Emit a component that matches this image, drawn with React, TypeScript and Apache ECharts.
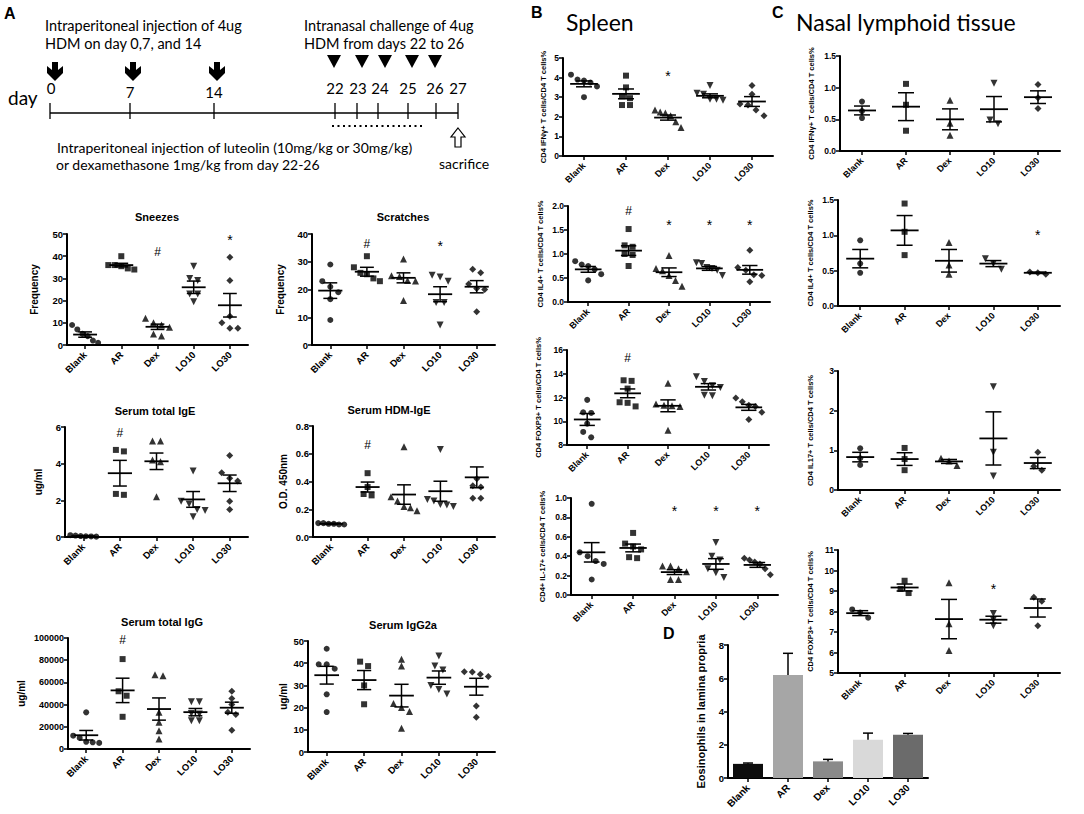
import React, { useEffect, useRef } from "react";
import * as echarts from "echarts";

const groups = ["Blank", "AR", "Dex", "LO10", "LO30"];

// ---------- Panel A ----------
const sneezePts = [[9, 7, 5, 4, 2, 1], [40, 36, 36, 35.5, 34.5, 34], [12, 10, 9, 8, 5, 4], [35.5, 30, 29, 23, 23, 19.5], [39.5, 29, 13, 10, 7.5, 7.5]];
const sneezeMean = [4.7, 36, 8.2, 26, 17.9];
const sneezeSem = [1.2, 0.8, 1.2, 2.8, 5.3];
const sneezeMarks = [[2, 42, "#"], [4, 47.5, "*"]];

const scratchPts = [[29, 23, 21, 19, 16.5, 9], [32, 28, 26, 25.5, 24, 23], [31, 25, 24.7, 23.2, 23.1, 16], [25.1, 24.5, 23, 15.3, 15.3, 7.2], [27.3, 26, 22, 20.4, 20, 12]];
const scratchMean = [19.6, 26.4, 24.2, 18.3, 21];
const scratchSem = [2.8, 1.6, 1.8, 2.7, 2.2];
const scratchMarks = [[1, 36.5, "#"], [3, 35.5, "*"]];

const igePts = [[0.03, 0.05, 0.08, 0.1, 0.02, 0.04], [4.75, 4.67, 2.35, 2.3], [5.24, 5.24, 4.2, 4.1, 2.2], [3.6, 1.95, 1.8, 1.5, 1.45, 1.1], [4.45, 3.5, 3.2, 3.05, 1.95, 1.5]];
const igeMean = [0.05, 3.48, 4.13, 2.05, 2.93];
const igeSem = [0.02, 0.7, 0.45, 0.43, 0.45];
const igeMarks = [[1, 5.7, "#"]];

const hdmPts = [[0.1, 0.1, 0.095, 0.09, 0.09, 0.095], [0.46, 0.36, 0.31, 0.3], [0.65, 0.29, 0.26, 0.22, 0.21, 0.19], [0.63, 0.27, 0.26, 0.235, 0.23, 0.22], [0.42, 0.37, 0.36, 0.28, 0.28]];
const hdmMean = [0.095, 0.36, 0.306, 0.33, 0.43];
const hdmSem = [0.004, 0.036, 0.07, 0.072, 0.075];
const hdmMarks = [[1, 0.66, "#"]];

const iggPts = [[33000, 12000, 10000, 6500, 6000, 5500], [81000, 52000, 48000, 29000], [66000, 67000, 33000, 24000, 16500, 9000], [42600, 42600, 32000, 31500, 25500, 25500], [52000, 45600, 40000, 33000, 31000, 17000]];
const iggMean = [12400, 52800, 36000, 33200, 37200];
const iggSem = [4300, 11000, 10000, 3300, 5000];
const iggMarks = [[1, 98500, "#"]];

const g2aPts = [[46.5, 39.5, 39.5, 37.5, 26, 18], [40.7, 38.7, 30, 21.5], [41.8, 38.7, 21.9, 20, 18.2, 10.7], [43.2, 38.7, 36.9, 30, 28.2, 26.1], [36.2, 36, 35, 34, 20.7, 15.6]];
const g2aMean = [34.6, 32.4, 25.4, 33.5, 29.4];
const g2aSem = [4, 4.3, 5.1, 3, 3.8];

// ---------- Panel B (Spleen) ----------
const bIfnPts = [[4.15, 3.9, 3.85, 3.75, 3.55, 3.0], [4.1, 3.5, 3.05, 2.95, 2.6, 2.6], [2.35, 2.25, 2.2, 2.05, 1.75, 1.45], [3.6, 3.2, 3.15, 2.9, 2.9, 2.85], [3.6, 3.15, 2.65, 2.6, 2.35, 2.05]];
const bIfnMean = [3.68, 3.17, 1.96, 3.07, 2.78];
const bIfnSem = [0.15, 0.25, 0.13, 0.1, 0.25];
const bIfnMarks = [[2, 4.1, "*"]];

const bIl4Pts = [[0.85, 0.78, 0.75, 0.68, 0.58, 0.45], [1.52, 1.18, 1.15, 1.0, 0.98, 0.75], [0.97, 0.7, 0.65, 0.55, 0.45, 0.33], [0.82, 0.8, 0.72, 0.7, 0.66, 0.55], [1.08, 0.72, 0.66, 0.57, 0.55, 0.42]];
const bIl4Mean = [0.68, 1.07, 0.62, 0.7, 0.67];
const bIl4Sem = [0.06, 0.1, 0.09, 0.04, 0.09];
const bIl4Marks = [[1, 1.9, "#"], [2, 1.6, "*"], [3, 1.6, "*"], [4, 1.6, "*"]];

const bFoxPts = [[11.8, 10.75, 10.7, 9.8, 9.1, 8.65], [13.45, 13.4, 12.75, 11.6, 11.55, 11.25], [13.2, 11.45, 11.35, 11.3, 11.25, 9.25], [13.75, 13.35, 13.0, 12.85, 12.2, 12.15], [11.95, 11.65, 11.35, 11.25, 10.75, 10.15]];
const bFoxMean = [10.15, 12.35, 11.3, 12.9, 11.17];
const bFoxSem = [0.5, 0.37, 0.5, 0.27, 0.25];
const bFoxMarks = [[1, 15.3, "#"]];

const bIl17Pts = [[0.94, 0.44, 0.4, 0.35, 0.32, 0.16], [0.64, 0.53, 0.5, 0.47, 0.39, 0.38], [0.3, 0.3, 0.27, 0.24, 0.16, 0.16], [0.54, 0.4, 0.36, 0.27, 0.23, 0.18], [0.38, 0.36, 0.34, 0.32, 0.27, 0.21]];
const bIl17Mean = [0.44, 0.485, 0.236, 0.32, 0.31];
const bIl17Sem = [0.1, 0.04, 0.025, 0.055, 0.025];
const bIl17Marks = [[2, 0.87, "*"], [3, 0.87, "*"], [4, 0.87, "*"]];

// ---------- Panel C (Nasal lymphoid tissue) ----------
const cIfnPts = [[0.78, 0.63, 0.52], [1.06, 0.73, 0.32], [0.8, 0.44, 0.25], [1.07, 0.49, 0.43], [1.05, 0.84, 0.67]];
const cIfnMean = [0.64, 0.7, 0.5, 0.66, 0.85];
const cIfnSem = [0.07, 0.22, 0.165, 0.2, 0.1];

const cIl4Pts = [[0.93, 0.6, 0.47], [1.45, 1.05, 0.72], [0.9, 0.58, 0.45], [0.67, 0.6, 0.52], [0.48, 0.47, 0.45]];
const cIl4Mean = [0.67, 1.07, 0.64, 0.6, 0.47];
const cIl4Sem = [0.13, 0.21, 0.16, 0.043, 0.01];
const cIl4Marks = [[4, 1.0, "*"]];

const cIl17Pts = [[1.05, 0.8, 0.63], [1.06, 0.78, 0.5], [0.8, 0.73, 0.62], [2.6, 0.95, 0.35], [0.95, 0.6, 0.5]];
const cIl17Mean = [0.83, 0.78, 0.72, 1.3, 0.68];
const cIl17Sem = [0.12, 0.16, 0.05, 0.67, 0.14];

const cFoxPts = [[8.1, 7.95, 7.7], [9.5, 9.1, 8.9], [9.4, 7.4, 6.1], [7.9, 7.6, 7.3], [8.7, 8.5, 7.3]];
const cFoxMean = [7.92, 9.17, 7.63, 7.6, 8.17];
const cFoxSem = [0.12, 0.17, 0.96, 0.17, 0.44];
const cFoxMarks = [[3, 9.1, "*"]];

// ---------- Panel D ----------
const eosMean = [0.85, 6.2, 1.0, 2.3, 2.6];
const eosSem = [0.05, 1.3, 0.12, 0.4, 0.08];

// ---------- Timeline ----------
const injDays = ["0", "7", "14"];
const chalDays = ["22", "23", "24", "25", "26", "27"];

const SANS = '"Liberation Sans", Arial, sans-serif';
const CAL = 'Lato, "Open Sans", sans-serif';

const shapes = ["circle", "rect", "triangle", "triangle", "diamond"];
const rots = [0, 0, 0, 180, 0];
const sizes = [6, 6, 7, 7, 7];

type Panel = {
  pts: number[][];
  mean: number[];
  sem: number[];
  marks?: any[];
  axis: number[];
  dec: number;
  name: string;
  left: number; top: number; width: number; height: number;
  gap: number; nameSize: number; tickSize: number; xSize: number;
  title?: string; tx?: number; ty?: number;
};

const panels: Panel[] = [
  { pts: sneezePts, mean: sneezeMean, sem: sneezeSem, marks: sneezeMarks, axis: [0, 50, 10], dec: 0, name: "Frequency", left: 67, top: 234, width: 181, height: 111, gap: 28, nameSize: 10, tickSize: 9.5, xSize: 9.5, title: "Sneezes", tx: 157, ty: 217 },
  { pts: scratchPts, mean: scratchMean, sem: scratchSem, marks: scratchMarks, axis: [0, 40, 10], dec: 0, name: "Frequency", left: 312, top: 234, width: 183, height: 111, gap: 27, nameSize: 10, tickSize: 9.5, xSize: 9.5, title: "Scratches", tx: 403, ty: 217 },
  { pts: igePts, mean: igeMean, sem: igeSem, marks: igeMarks, axis: [0, 6, 2], dec: 0, name: "ug/ml", left: 65, top: 427, width: 183, height: 110, gap: 22, nameSize: 10, tickSize: 9.5, xSize: 9.5, title: "Serum total IgE", tx: 155, ty: 411 },
  { pts: hdmPts, mean: hdmMean, sem: hdmSem, marks: hdmMarks, axis: [0, 0.8, 0.2], dec: 1, name: "O.D. 450nm", left: 313, top: 426, width: 182, height: 111, gap: 25, nameSize: 10, tickSize: 9.5, xSize: 9.5, title: "Serum HDM-IgE", tx: 389, ty: 410 },
  { pts: iggPts, mean: iggMean, sem: iggSem, marks: iggMarks, axis: [0, 100000, 20000], dec: 0, name: "ug/ml", left: 68, top: 638, width: 182, height: 111, gap: 42, nameSize: 10, tickSize: 9, xSize: 9.5, title: "Serum total IgG", tx: 162, ty: 622 },
  { pts: g2aPts, mean: g2aMean, sem: g2aSem, axis: [0, 50, 10], dec: 0, name: "ug/ml", left: 308, top: 641, width: 187, height: 111, gap: 20, nameSize: 10, tickSize: 9.5, xSize: 9.5, title: "Serum IgG2a", tx: 403, ty: 625 },
  { pts: bIfnPts, mean: bIfnMean, sem: bIfnSem, marks: bIfnMarks, axis: [0, 5, 1], dec: 0, name: "CD4 IFNγ+ T cells/CD4 T cells%", left: 563, top: 58, width: 210, height: 98, gap: 16, nameSize: 7.5, tickSize: 8.5, xSize: 9 },
  { pts: bIl4Pts, mean: bIl4Mean, sem: bIl4Sem, marks: bIl4Marks, axis: [0, 2, 0.5], dec: 1, name: "CD4 IL4+ T cells/CD4 T cells%", left: 568, top: 206, width: 202, height: 96, gap: 24, nameSize: 7.5, tickSize: 8.5, xSize: 9 },
  { pts: bFoxPts, mean: bFoxMean, sem: bFoxSem, marks: bFoxMarks, axis: [8, 16, 2], dec: 0, name: "CD4 FOXP3+ T cells/CD4 T cells%", left: 567, top: 350, width: 202, height: 95, gap: 25, nameSize: 7.5, tickSize: 8.5, xSize: 9 },
  { pts: bIl17Pts, mean: bIl17Mean, sem: bIl17Sem, marks: bIl17Marks, axis: [0, 1, 0.2], dec: 1, name: "CD4+ IL-17+ cells/CD4 T cells%", left: 571, top: 498, width: 207, height: 97, gap: 25, nameSize: 7.5, tickSize: 8.5, xSize: 9 },
  { pts: cIfnPts, mean: cIfnMean, sem: cIfnSem, axis: [0, 1.5, 0.5], dec: 1, name: "CD4 IFNγ+ T cells/CD4 T cells%", left: 840, top: 56, width: 220, height: 95, gap: 25, nameSize: 7.5, tickSize: 8.5, xSize: 9 },
  { pts: cIl4Pts, mean: cIl4Mean, sem: cIl4Sem, marks: cIl4Marks, axis: [0, 1.5, 0.5], dec: 1, name: "CD4 IL4+ T cells/CD4 T cells%", left: 838, top: 200, width: 222, height: 106, gap: 24, nameSize: 7.5, tickSize: 8.5, xSize: 9 },
  { pts: cIl17Pts, mean: cIl17Mean, sem: cIl17Sem, axis: [0, 3, 1], dec: 0, name: "CD4 IL17+ T cells/CD4 T cells%", left: 838, top: 371, width: 222, height: 119, gap: 24, nameSize: 7.5, tickSize: 8.5, xSize: 9 },
  { pts: cFoxPts, mean: cFoxMean, sem: cFoxSem, marks: cFoxMarks, axis: [5, 11, 1], dec: 0, name: "CD4 FOXP3+ T cells/CD4 T cells%", left: 838, top: 550, width: 222, height: 123, gap: 24, nameSize: 7.5, tickSize: 8.5, xSize: 9 },
];

function jitter(vals: number[], pxPerUnit: number) {
  const idx = vals.map((_, i) => i).sort((a, b) => vals[b] - vals[a]);
  const offs = new Array(vals.length).fill(0);
  let cluster = [idx[0]];
  const flush = () => {
    const k = cluster.length;
    const sp = k > 1 ? Math.min(8, 26 / (k - 1)) : 0;
    cluster.forEach((ii, j) => { offs[ii] = (j - (k - 1) / 2) * sp; });
  };
  for (let j = 1; j < idx.length; j++) {
    const last = cluster[cluster.length - 1];
    if ((vals[last] - vals[idx[j]]) * pxPerUnit < 6) cluster.push(idx[j]);
    else { flush(); cluster = [idx[j]]; }
  }
  flush();
  return offs;
}

function errRender(params: any, api: any) {
  const i = api.value(0), m = api.value(1), s = api.value(2);
  const c = api.coord([i, m]);
  const hi = api.coord([i, m + s]);
  const lo = api.coord([i, m - s]);
  const bw = api.size([1, 0])[0];
  const hw = Math.min(bw * 0.33, 14), cw = Math.min(bw * 0.19, 8);
  const st = { stroke: "#000", lineWidth: 1.5 };
  return {
    type: "group",
    children: [
      { type: "line", shape: { x1: c[0] - hw, y1: c[1], x2: c[0] + hw, y2: c[1] }, style: { ...st, lineWidth: 1.8 } },
      { type: "line", shape: { x1: c[0], y1: hi[1], x2: c[0], y2: lo[1] }, style: st },
      { type: "line", shape: { x1: c[0] - cw, y1: hi[1], x2: c[0] + cw, y2: hi[1] }, style: st },
      { type: "line", shape: { x1: c[0] - cw, y1: lo[1], x2: c[0] + cw, y2: lo[1] }, style: st },
    ],
  };
}

function markRender(marks: any[]) {
  return (params: any, api: any) => {
    const mk = marks[params.dataIndex];
    const c = api.coord([api.value(0), api.value(1)]);
    const star = mk[2] === "*";
    return {
      type: "text", x: c[0], y: c[1],
      style: { text: mk[2], fill: "#000", font: `${star ? 14 : 12}px ${SANS}`, textAlign: "center", textVerticalAlign: "middle" },
    };
  };
}

function barErrRender(params: any, api: any) {
  const i = api.value(0), m = api.value(1), s = api.value(2);
  const c = api.coord([i, m]);
  const hi = api.coord([i, m + s]);
  const st = { stroke: "#000", lineWidth: 1.5 };
  return {
    type: "group",
    children: [
      { type: "line", shape: { x1: c[0], y1: c[1], x2: c[0], y2: hi[1] }, style: st },
      { type: "line", shape: { x1: c[0] - 5, y1: hi[1], x2: c[0] + 5, y2: hi[1] }, style: st },
    ],
  };
}

function axisLineStyle() {
  return { show: true, lineStyle: { color: "#000", width: 2 } };
}

function buildOption() {
  const grid: any[] = [];
  const xAxis: any[] = [];
  const yAxis: any[] = [];
  const series: any[] = [];
  const graphic: any[] = [];

  panels.forEach((p, k) => {
    grid.push({ left: p.left, top: p.top, width: p.width, height: p.height });
    xAxis.push({
      type: "category", gridIndex: k, data: groups,
      axisLine: axisLineStyle(),
      axisTick: { show: true, alignWithLabel: true, length: 4, lineStyle: { color: "#000", width: 1.5 } },
      axisLabel: { rotate: 45, interval: 0, fontSize: p.xSize, fontWeight: "bold", color: "#000", fontFamily: SANS, margin: 8 },
      splitLine: { show: false },
    });
    yAxis.push({
      type: "value", gridIndex: k, min: p.axis[0], max: p.axis[1], interval: p.axis[2],
      name: p.name, nameLocation: "middle", nameGap: p.gap, nameRotate: 90,
      nameTextStyle: { fontSize: p.nameSize, fontWeight: "bold", color: "#000", fontFamily: SANS },
      axisLine: axisLineStyle(),
      axisTick: { show: true, length: 4, lineStyle: { color: "#000", width: 1.5 } },
      axisLabel: { fontSize: p.tickSize, fontWeight: "bold", color: "#000", fontFamily: SANS, margin: 4, formatter: (v: number) => v.toFixed(p.dec) },
      splitLine: { show: false },
    });
    const ppu = p.height / (p.axis[1] - p.axis[0]);
    const data: any[] = [];
    p.pts.forEach((arr, gi) => {
      const offs = jitter(arr, ppu);
      arr.forEach((v, j) => {
        data.push({ value: [gi, v], symbol: shapes[gi], symbolRotate: rots[gi], symbolSize: sizes[gi], symbolOffset: [offs[j], 0] });
      });
    });
    series.push({ type: "scatter", xAxisIndex: k, yAxisIndex: k, data, itemStyle: { color: "#000" }, z: 3 });
    series.push({
      type: "custom", xAxisIndex: k, yAxisIndex: k, renderItem: errRender, z: 4,
      data: p.mean.map((m, i) => [i, m, p.sem[i]]), encode: { x: 0, y: 1 },
    });
    if (p.marks && p.marks.length) {
      const mks = p.marks;
      series.push({
        type: "custom", xAxisIndex: k, yAxisIndex: k, renderItem: markRender(mks), z: 5,
        data: mks.map((mk) => [mk[0], mk[1]]), encode: { x: 0, y: 1 },
      });
    }
    if (p.title) {
      graphic.push({ type: "text", x: p.tx, y: p.ty, style: { text: p.title, font: `bold 11px ${SANS}`, fill: "#000", textAlign: "center", textVerticalAlign: "middle" } });
    }
  });

  // Panel D
  const d = panels.length;
  grid.push({ left: 728, top: 645, width: 200, height: 133 });
  xAxis.push({
    type: "category", gridIndex: d, data: groups,
    axisLine: axisLineStyle(),
    axisTick: { show: true, alignWithLabel: true, length: 4, lineStyle: { color: "#000", width: 1.5 } },
    axisLabel: { rotate: 45, interval: 0, fontSize: 10, fontWeight: "bold", color: "#000", fontFamily: SANS, margin: 8 },
  });
  yAxis.push({
    type: "value", gridIndex: d, min: 0, max: 8, interval: 2,
    name: "Eosinophils in lamina propria", nameLocation: "middle", nameGap: 22, nameRotate: 90,
    nameTextStyle: { fontSize: 11, fontWeight: "bold", color: "#000", fontFamily: SANS },
    axisLine: axisLineStyle(),
    axisTick: { show: true, length: 4, lineStyle: { color: "#000", width: 1.5 } },
    axisLabel: { fontSize: 9.5, fontWeight: "bold", color: "#000", fontFamily: SANS, margin: 4 },
    splitLine: { show: false },
  });
  const barColors = ["#0d0d0d", "#a6a6a6", "#8a8a8a", "#d9d9d9", "#6b6b6b"];
  series.push({
    type: "bar", xAxisIndex: d, yAxisIndex: d, barWidth: "75%",
    data: eosMean.map((v, i) => ({ value: v, itemStyle: { color: barColors[i] } })),
  });
  series.push({
    type: "custom", xAxisIndex: d, yAxisIndex: d, renderItem: barErrRender, z: 4,
    data: eosMean.map((m, i) => [i, m, eosSem[i]]), encode: { x: 0, y: 1 },
  });

  // Panel letters and headings
  const letter = (t: string, x: number, y: number) => ({ type: "text", x, y, style: { text: t, font: `bold 16px ${SANS}`, fill: "#000" } });
  graphic.push(letter("A", 4, 5), letter("B", 531, 4), letter("C", 772, 4), letter("D", 663, 625));
  graphic.push({ type: "text", x: 566, y: 22, style: { text: "Spleen", font: `23px ${CAL}`, fill: "#000", textVerticalAlign: "middle" } });
  graphic.push({ type: "text", x: 796, y: 22, style: { text: "Nasal lymphoid tissue", font: `23px ${CAL}`, fill: "#000", textVerticalAlign: "middle" } });

  // Timeline
  const tl = (t: string, x: number, y: number, size = 14, align = "left") => ({ type: "text", x, y, style: { text: t, font: `${size}px ${CAL}`, fill: "#000", textAlign: align, textVerticalAlign: "middle" } });
  graphic.push(tl("Intraperitoneal injection of 4ug", 45, 25, 14.5), tl("HDM on day 0,7, and 14", 45, 43, 14.5));
  graphic.push(tl("Intranasal challenge of 4ug", 304, 25, 14.5), tl("HDM from days 22 to 26", 304, 43, 14.5));
  graphic.push(tl("Intraperitoneal injection of luteolin (10mg/kg or 30mg/kg)", 57, 147), tl("or dexamethasone 1mg/kg from day 22-26", 56, 164));
  graphic.push(tl("sacrifice", 439, 163));
  graphic.push(tl("day", 8, 97, 19));
  graphic.push({ type: "line", shape: { x1: 50, y1: 113, x2: 458, y2: 113 }, style: { stroke: "#000", lineWidth: 1.3 } });
  const tickX = [50, 130, 214, 335, 357, 378, 408, 436, 458];
  tickX.forEach((x) => graphic.push({ type: "line", shape: { x1: x, y1: 103, x2: x, y2: 119 }, style: { stroke: "#000", lineWidth: 1.3 } }));
  const injX = [51, 130, 214];
  const injY = [88, 92, 92];
  injDays.forEach((t, i) => graphic.push(tl(t, injX[i], injY[i], 15, "center")));
  const chalX = [335, 358, 380, 408, 435, 458];
  chalDays.forEach((t, i) => graphic.push(tl(t, chalX[i], 88, 15, "center")));
  const arrowX = [55, 133, 217];
  arrowX.forEach((cx) => {
    const rel = [[-3, 0], [3, 0], [3, 8], [8, 4], [8, 11], [0, 19], [-8, 11], [-8, 4], [-3, 8]];
    graphic.push({ type: "polygon", shape: { points: rel.map(([a, b]) => [cx + a, 62 + b]) }, style: { fill: "#000" } });
  });
  const triX = [334, 362, 385, 412, 435];
  triX.forEach((cx) => graphic.push({ type: "polygon", shape: { points: [[cx - 7, 55], [cx + 7, 55], [cx, 68]] }, style: { fill: "#000" } }));
  graphic.push({ type: "line", shape: { x1: 332, y1: 126, x2: 422, y2: 126 }, style: { stroke: "#000", lineWidth: 2, lineDash: [2, 3.5] } });
  graphic.push({
    type: "polygon",
    shape: { points: [[458, 128], [465, 137], [461, 137], [461, 147], [455, 147], [455, 137], [451, 137]] },
    style: { fill: "#fff", stroke: "#000", lineWidth: 1.2 },
  });

  return { animation: false, backgroundColor: "#fff", grid, xAxis, yAxis, series, graphic };
}

export default function App() {
  const ref = useRef<HTMLDivElement>(null);
  useEffect(() => {
    if (!ref.current) return;
    const chart = echarts.init(ref.current, undefined, { renderer: "svg" });
    chart.setOption(buildOption() as any);
    return () => chart.dispose();
  }, []);
  return <div ref={ref} style={{ position: "absolute", left: 0, top: 0, width: 1084, height: 814, background: "#fff" }} />;
}
